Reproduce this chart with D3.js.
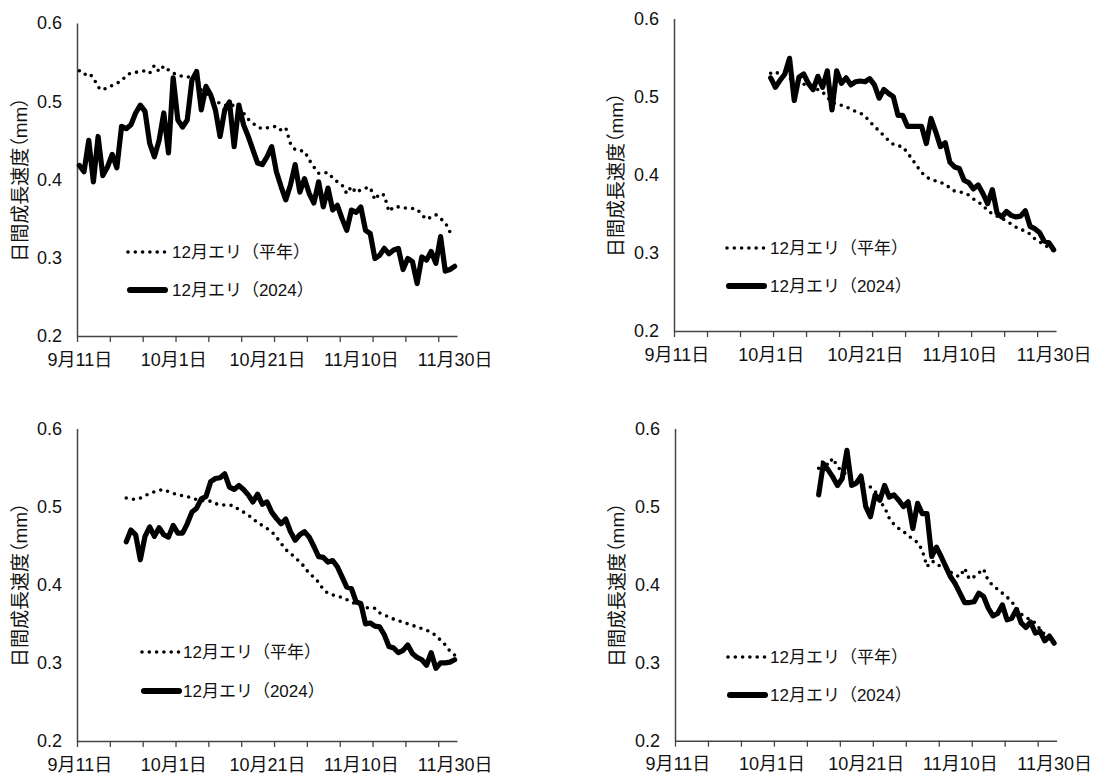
<!DOCTYPE html>
<html>
<head>
<meta charset="utf-8">
<script src="https://cdn.jsdelivr.net/npm/d3@7"></script>
<style>
  body { margin: 0; background: #fff; }
  text { font-family: "Liberation Sans", "Noto Sans CJK JP", sans-serif; fill: #111; }
  .ytitle { font-feature-settings: "palt"; }
</style>
</head>
<body>
<div class="canvas"></div>
<script>
// categories: one per day, 9/11 .. 11/30
const startDate = new Date(2024, 8, 11);
const dayCount = 81;
const labelDays = [0, 20, 40, 60, 80];
const tickDays = d3.range(0, dayCount, 7);
const yTicks = [0.2, 0.3, 0.4, 0.5, 0.6];
const seriesNames = ['12月エリ（平年）', '12月エリ（2024）'];
const yTitle = '日間成長速度（mm）';

// panel 1 (top left), from 9/11
const p1Start = 0;
const p1Normal = [0.539, 0.534, 0.536, 0.53, 0.518, 0.514, 0.518, 0.52, 0.523, 0.526,
  0.533, 0.536, 0.537, 0.538, 0.539, 0.536, 0.546, 0.538, 0.545, 0.54,
  0.536, 0.533, 0.532, 0.531, 0.531, 0.531, 0.514, 0.51, 0.505, 0.501,
  0.497, 0.495, 0.494, 0.495, 0.49, 0.485, 0.477, 0.472, 0.467, 0.465,
  0.466, 0.467, 0.468, 0.463, 0.466, 0.446, 0.438, 0.437, 0.436, 0.425,
  0.416, 0.408, 0.408, 0.409, 0.402, 0.397, 0.393, 0.382, 0.391, 0.383,
  0.387, 0.389, 0.39, 0.374, 0.382, 0.38, 0.359, 0.365, 0.365, 0.364,
  0.363, 0.363, 0.362, 0.355, 0.349, 0.352, 0.355, 0.35, 0.345, 0.333];
const p1Y2024 = [0.418, 0.41, 0.45, 0.397, 0.455, 0.405, 0.416, 0.432, 0.415, 0.468,
  0.465, 0.47, 0.485, 0.495, 0.487, 0.446, 0.429, 0.45, 0.485, 0.434,
  0.53, 0.476, 0.467, 0.476, 0.527, 0.538, 0.489, 0.519, 0.508, 0.489,
  0.455, 0.489, 0.499, 0.442, 0.495, 0.47, 0.455, 0.438, 0.421, 0.419,
  0.429, 0.442, 0.41, 0.391, 0.374, 0.393, 0.419, 0.384, 0.401, 0.382,
  0.37, 0.397, 0.365, 0.389, 0.361, 0.367, 0.35, 0.335, 0.361, 0.358,
  0.365, 0.335, 0.331, 0.299, 0.303, 0.312, 0.305, 0.31, 0.312, 0.285,
  0.299, 0.295, 0.267, 0.301, 0.297, 0.308, 0.293, 0.327, 0.283, 0.285, 0.289];

// panel 2 (top right), from 10/1
const p2Start = 20;
const p2Normal = [0.53, 0.532, 0.528, 0.525, 0.523, 0.521, 0.519, 0.516, 0.514, 0.512,
  0.509, 0.506, 0.499, 0.493, 0.49, 0.489, 0.487, 0.484, 0.481, 0.479,
  0.475, 0.468, 0.462, 0.456, 0.45, 0.444, 0.439, 0.437, 0.436, 0.428,
  0.42, 0.411, 0.403, 0.397, 0.394, 0.392, 0.39, 0.388, 0.383, 0.379,
  0.378, 0.377, 0.374, 0.369, 0.365, 0.361, 0.354, 0.35, 0.347, 0.344,
  0.341, 0.337, 0.333, 0.33, 0.328, 0.324, 0.318, 0.314, 0.311, 0.306, 0.303];
const p2Y2024 = [0.524, 0.512, 0.521, 0.529, 0.549, 0.495, 0.525, 0.529, 0.517, 0.509,
  0.526, 0.512, 0.533, 0.483, 0.533, 0.517, 0.524, 0.515, 0.519, 0.52,
  0.519, 0.523, 0.515, 0.498, 0.509, 0.504, 0.5, 0.476, 0.476, 0.462,
  0.462, 0.462, 0.462, 0.44, 0.472, 0.455, 0.436, 0.441, 0.416, 0.41,
  0.408, 0.393, 0.39, 0.382, 0.387, 0.376, 0.363, 0.381, 0.351, 0.346,
  0.353, 0.348, 0.346, 0.347, 0.354, 0.334, 0.331, 0.326, 0.315, 0.313, 0.304];

// panel 3 (bottom left), from 9/21
const p3Start = 10;
const p3Normal = [0.511, 0.51, 0.509, 0.511, 0.514, 0.517, 0.519, 0.521, 0.522, 0.519,
  0.517, 0.515, 0.514, 0.513, 0.511, 0.509, 0.508, 0.507, 0.507, 0.504,
  0.502, 0.502, 0.502, 0.501, 0.496, 0.493, 0.489, 0.485, 0.479, 0.476,
  0.472, 0.468, 0.461, 0.453, 0.445, 0.44, 0.435, 0.429, 0.423, 0.414,
  0.41, 0.403, 0.394, 0.389, 0.387, 0.385, 0.384, 0.381, 0.378, 0.375,
  0.373, 0.371, 0.37, 0.37, 0.364, 0.361, 0.359, 0.356, 0.354, 0.352,
  0.35, 0.348, 0.346, 0.344, 0.342, 0.339, 0.335, 0.329, 0.323, 0.315, 0.31];
const p3Y2024 = [0.455, 0.47, 0.464, 0.432, 0.462, 0.474, 0.462, 0.473, 0.464, 0.461,
  0.476, 0.466, 0.466, 0.478, 0.493, 0.498, 0.51, 0.513, 0.532, 0.536,
  0.537, 0.542, 0.525, 0.522, 0.527, 0.522, 0.515, 0.506, 0.516, 0.503,
  0.506, 0.493, 0.485, 0.478, 0.484, 0.468, 0.457, 0.464, 0.468, 0.461,
  0.449, 0.436, 0.435, 0.429, 0.431, 0.423, 0.41, 0.397, 0.395, 0.378,
  0.376, 0.35, 0.351, 0.347, 0.346, 0.336, 0.321, 0.319, 0.313, 0.316,
  0.323, 0.312, 0.307, 0.304, 0.297, 0.313, 0.293, 0.3, 0.3, 0.301, 0.304];

// panel 4 (bottom right), from 10/11
const p4Start = 30;
const p4Normal = [0.549, 0.559, 0.553, 0.562, 0.551, 0.545, 0.541, 0.537, 0.533, 0.53,
  0.527, 0.525, 0.52, 0.507, 0.499, 0.485, 0.477, 0.472, 0.468, 0.463,
  0.458, 0.454, 0.444, 0.423, 0.43, 0.428, 0.422, 0.421, 0.416, 0.412,
  0.41, 0.421, 0.407, 0.41, 0.415, 0.42, 0.405, 0.399, 0.394, 0.389,
  0.384, 0.378, 0.37, 0.362, 0.358, 0.355, 0.351, 0.343, 0.336, 0.33, 0.325];
const p4Y2024 = [0.515, 0.555, 0.547, 0.538, 0.527, 0.536, 0.572, 0.527, 0.53, 0.539,
  0.5, 0.487, 0.515, 0.508, 0.527, 0.512, 0.515, 0.508, 0.5, 0.506,
  0.472, 0.504, 0.491, 0.491, 0.436, 0.448, 0.436, 0.423, 0.41, 0.401,
  0.389, 0.377, 0.377, 0.378, 0.389, 0.385, 0.37, 0.36, 0.363, 0.374,
  0.355, 0.357, 0.368, 0.351, 0.345, 0.352, 0.338, 0.34, 0.328, 0.334, 0.325];

const panels = [
  { start: p1Start, normal: p1Normal, y2024: p1Y2024,
    left: 77, right: 457, top: 23, bottom: 336, titleX: 20, legX: 128, legTextX: 172, legY: [252, 290] },
  { start: p2Start, normal: p2Normal, y2024: p2Y2024,
    left: 674, right: 1056, top: 18.5, bottom: 331, titleX: 616, legX: 727, legTextX: 770, legY: [248, 286] },
  { start: p3Start, normal: p3Normal, y2024: p3Y2024,
    left: 77, right: 457, top: 428.5, bottom: 741, titleX: 20, legX: 142, legTextX: 183, legY: [652, 691] },
  { start: p4Start, normal: p4Normal, y2024: p4Y2024,
    left: 675, right: 1056.5, top: 428.5, bottom: 740.7, titleX: 617, legX: 728, legTextX: 770, legY: [657, 695] }
];

const font = '"Liberation Sans", "Noto Sans CJK JP", sans-serif';
const dates = d3.range(dayCount).map(i => d3.timeDay.offset(startDate, i));
const fmtDay = d3.timeFormat('%-m月%-d日');

const svg = d3.select('.canvas')
    .append('svg')
    .attr('width', 1097)
    .attr('height', 774);

const dotted = { width: 3.6, dash: '0 7.3' };
const solid = { width: 5.2 };

panels.forEach(p => {
    const x = d3.scaleLinear().domain([0, dayCount]).range([p.left, p.right]);
    const y = d3.scaleLinear().domain([0.2, 0.6]).range([p.bottom, p.top]);
    const g = svg.append('g');

    // y axis, labels only
    g.append('g')
        .attr('transform', `translate(${p.left}, 0)`)
        .call(d3.axisLeft(y).tickValues(yTicks).tickSize(0).tickPadding(15).tickFormat(d3.format('.1f')))
        .attr('font-size', 18).attr('font-family', font).attr('color', '#111')
        .call(a => a.select('.domain').attr('stroke', '#444').attr('stroke-width', 1.5));

    // x axis tick marks every 7 days
    g.append('g')
        .attr('transform', `translate(0, ${p.bottom})`)
        .call(d3.axisBottom(x).tickValues(tickDays).tickSize(6).tickSizeOuter(0).tickFormat(''))
        .attr('color', '#444')
        .call(a => a.select('.domain').attr('stroke-width', 1.5))
        .call(a => a.selectAll('.tick line').attr('stroke-width', 1.3));

    // x labels every 20 days, centred on the day
    g.append('g')
        .attr('transform', `translate(0, ${p.bottom})`)
        .call(d3.axisBottom(x).tickValues(labelDays.map(d => d + 0.5)).tickSize(0).tickPadding(17)
            .tickFormat(d => fmtDay(dates[Math.floor(d)])))
        .attr('font-size', 18).attr('font-family', font).attr('color', '#111')
        .call(a => a.select('.domain').remove());

    g.append('text')
        .attr('class', 'ytitle')
        .attr('transform', `translate(${p.titleX}, ${(p.top + p.bottom) / 2}) rotate(-90)`)
        .attr('text-anchor', 'middle')
        .attr('dominant-baseline', 'central')
        .attr('font-size', 19)
        .text(yTitle);

    const line = d3.line()
        .x((d, i) => x(p.start + i + 0.5))
        .y(d => y(d));

    g.append('path')
        .datum(p.normal)
        .attr('fill', 'none')
        .attr('stroke', '#000')
        .attr('stroke-width', dotted.width)
        .attr('stroke-linecap', 'round')
        .attr('stroke-dasharray', dotted.dash)
        .attr('d', line);

    g.append('path')
        .datum(p.y2024)
        .attr('fill', 'none')
        .attr('stroke', '#000')
        .attr('stroke-width', solid.width)
        .attr('stroke-linejoin', 'round')
        .attr('stroke-linecap', 'round')
        .attr('d', line);

    // legend
    const leg = g.append('g');
    leg.append('line')
        .attr('x1', p.legX).attr('x2', p.legX + 37)
        .attr('y1', p.legY[0]).attr('y2', p.legY[0])
        .attr('stroke', '#000').attr('stroke-width', dotted.width)
        .attr('stroke-linecap', 'round').attr('stroke-dasharray', dotted.dash);
    leg.append('line')
        .attr('x1', p.legX + 2).attr('x2', p.legX + 37)
        .attr('y1', p.legY[1]).attr('y2', p.legY[1])
        .attr('stroke', '#000').attr('stroke-width', 6)
        .attr('stroke-linecap', 'round');
    leg.selectAll('text.leg')
        .data(seriesNames)
        .enter()
        .append('text')
        .attr('class', 'leg')
        .attr('x', p.legTextX)
        .attr('y', (d, i) => p.legY[i])
        .attr('dominant-baseline', 'central')
        .attr('font-size', 17)
        .text(d => d);
});
</script>
</body>
</html>
